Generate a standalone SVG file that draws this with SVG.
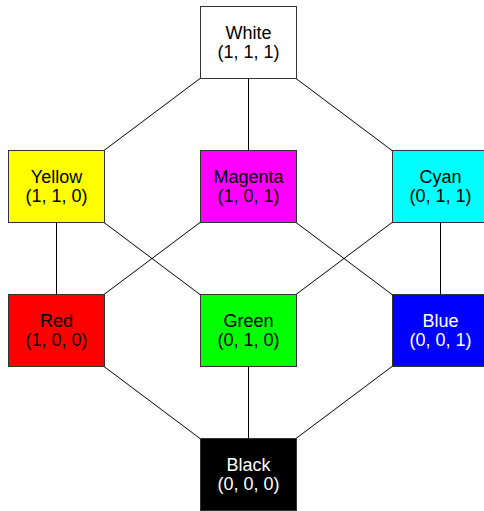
<svg xmlns="http://www.w3.org/2000/svg" width="484" height="511" viewBox="0 0 484 511">
  <style>
    .box { stroke: #333; stroke-width: 1; }
    .lbl { font-family: "Liberation Sans", Arial, sans-serif; font-size: 18px; text-anchor: middle; fill: #000; }
    .inv { fill: #fff; }
    .edge { stroke: #000; stroke-width: 1; fill: none; }
  </style>
  <rect width="484" height="511" fill="#fff"/>
  <g id="connectors" class="edge">
    <line x1="200" y1="78.5" x2="104" y2="150.5"/>
    <line x1="248.5" y1="78.5" x2="248.5" y2="150.5"/>
    <line x1="296" y1="78.5" x2="392" y2="150.5"/>
    <line x1="56.5" y1="222.5" x2="56.5" y2="294.5"/>
    <line x1="104" y1="222.5" x2="200" y2="294.5"/>
    <line x1="200" y1="222.5" x2="104" y2="294.5"/>
    <line x1="296" y1="222.5" x2="392" y2="294.5"/>
    <line x1="392" y1="222.5" x2="296" y2="294.5"/>
    <line x1="440.5" y1="222.5" x2="440.5" y2="294.5"/>
    <line x1="104" y1="366.5" x2="200" y2="438.5"/>
    <line x1="248.5" y1="366.5" x2="248.5" y2="438.5"/>
    <line x1="392" y1="366.5" x2="296" y2="438.5"/>
  </g>
  <g id="white">
    <rect class="box" x="200.5" y="6.5" width="96" height="72" fill="#fff"/>
    <text class="lbl" x="248.5" y="38.5">White</text>
    <text class="lbl" x="248.5" y="57.5">(1, 1, 1)</text>
  </g>
  <g id="yellow">
    <rect class="box" x="8.5" y="150.5" width="96" height="72" fill="#ff0"/>
    <text class="lbl" x="56.5" y="182.5">Yellow</text>
    <text class="lbl" x="56.5" y="201.5">(1, 1, 0)</text>
  </g>
  <g id="magenta">
    <rect class="box" x="200.5" y="150.5" width="96" height="72" fill="#f0f"/>
    <text class="lbl" x="248.5" y="182.5">Magenta</text>
    <text class="lbl" x="248.5" y="201.5">(1, 0, 1)</text>
  </g>
  <g id="cyan">
    <rect class="box" x="392.5" y="150.5" width="96" height="72" fill="#0ff"/>
    <text class="lbl" x="440.5" y="182.5">Cyan</text>
    <text class="lbl" x="440.5" y="201.5">(0, 1, 1)</text>
  </g>
  <g id="red">
    <rect class="box" x="8.5" y="294.5" width="96" height="72" fill="#f00"/>
    <text class="lbl" x="56.5" y="326.5">Red</text>
    <text class="lbl" x="56.5" y="345.5">(1, 0, 0)</text>
  </g>
  <g id="green">
    <rect class="box" x="200.5" y="294.5" width="96" height="72" fill="#0f0"/>
    <text class="lbl" x="248.5" y="326.5">Green</text>
    <text class="lbl" x="248.5" y="345.5">(0, 1, 0)</text>
  </g>
  <g id="blue">
    <rect class="box" x="392.5" y="294.5" width="96" height="72" fill="#00f"/>
    <text class="lbl inv" x="440.5" y="326.5">Blue</text>
    <text class="lbl inv" x="440.5" y="345.5">(0, 0, 1)</text>
  </g>
  <g id="black">
    <rect class="box" x="200.5" y="438.5" width="96" height="72" fill="#000"/>
    <text class="lbl inv" x="248.5" y="470.5">Black</text>
    <text class="lbl inv" x="248.5" y="489.5">(0, 0, 0)</text>
  </g>
</svg>
